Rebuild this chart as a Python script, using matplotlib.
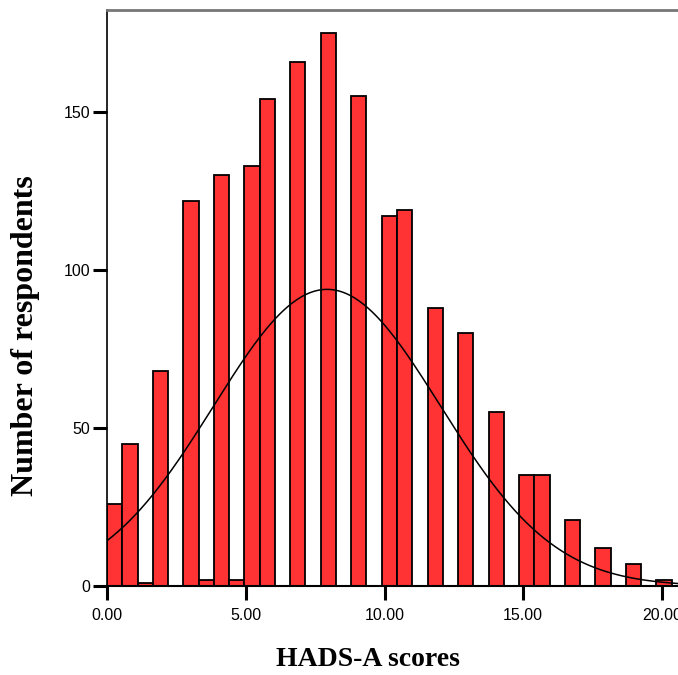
import numpy as np
import matplotlib
matplotlib.use('Agg')
import matplotlib.pyplot as plt

# histogram bins (width 0.55 starting at 0) and counts
bin_width = 0.55
counts = [26, 45, 1, 68, 0, 122, 2, 130, 2, 133, 154, 0, 166, 0, 175, 0,
          155, 0, 117, 119, 0, 88, 0, 80, 0, 55, 0, 35, 35, 0, 21, 0,
          12, 0, 7, 0, 2]

# fitted normal curve parameters
curve_mean = 7.93
curve_sd = 4.09

x_ticks = [0, 5, 10, 15, 20]
x_ticklabels = ['0.00', '5.00', '10.00', '15.00', '20.00']
y_ticks = [0, 50, 100, 150]

counts = np.array(counts)
left_edges = np.arange(len(counts)) * bin_width
n_total = counts.sum()

fig = plt.figure(figsize=(6.78, 6.75), dpi=100)
ax = fig.add_axes([107 / 678, 89 / 675, 571 / 678, 576 / 675])

mask = counts > 0
ax.bar(left_edges[mask], counts[mask], width=bin_width, align='edge',
       color='#ff3333', edgecolor='black', linewidth=1.3, zorder=2)

xs = np.linspace(0, 20.6, 400)
ys = n_total * bin_width / (curve_sd * np.sqrt(2 * np.pi)) * \
    np.exp(-0.5 * ((xs - curve_mean) / curve_sd) ** 2)
ax.plot(xs, ys, color='black', linewidth=1.1, zorder=3)

ax.set_xlim(0, 571 / 27.75)
ax.set_ylim(0, 182.3)

ax.set_xticks(x_ticks)
ax.set_xticklabels(x_ticklabels)
ax.set_yticks(y_ticks)
tick_font = ['Liberation Sans Narrow', 'Liberation Sans']
for lab in ax.get_xticklabels() + ax.get_yticklabels():
    lab.set_family(tick_font)
    lab.set_fontsize(11.5)
ax.tick_params(axis='both', direction='out', length=10, width=2.2)
ax.tick_params(axis='x', pad=6)
ax.tick_params(axis='y', pad=2)

ax.spines['right'].set_visible(False)
ax.spines['top'].set_color('#777777')
ax.spines['top'].set_linewidth(2)
ax.spines['left'].set_linewidth(1.2)
ax.spines['bottom'].set_linewidth(1.5)

ax.set_ylabel('Number of respondents', family='Liberation Serif',
              fontweight='bold', fontsize=23, va='center')
ax.yaxis.set_label_coords((25 - 107) / 571, (586 - 336) / 576)
ax.set_xlabel('HADS-A scores', family='Liberation Serif',
              fontweight='bold', fontsize=20, va='center')
ax.xaxis.set_label_coords((368 - 107) / 571, (586 - 660) / 576)

fig.savefig('out.png', dpi=100)
